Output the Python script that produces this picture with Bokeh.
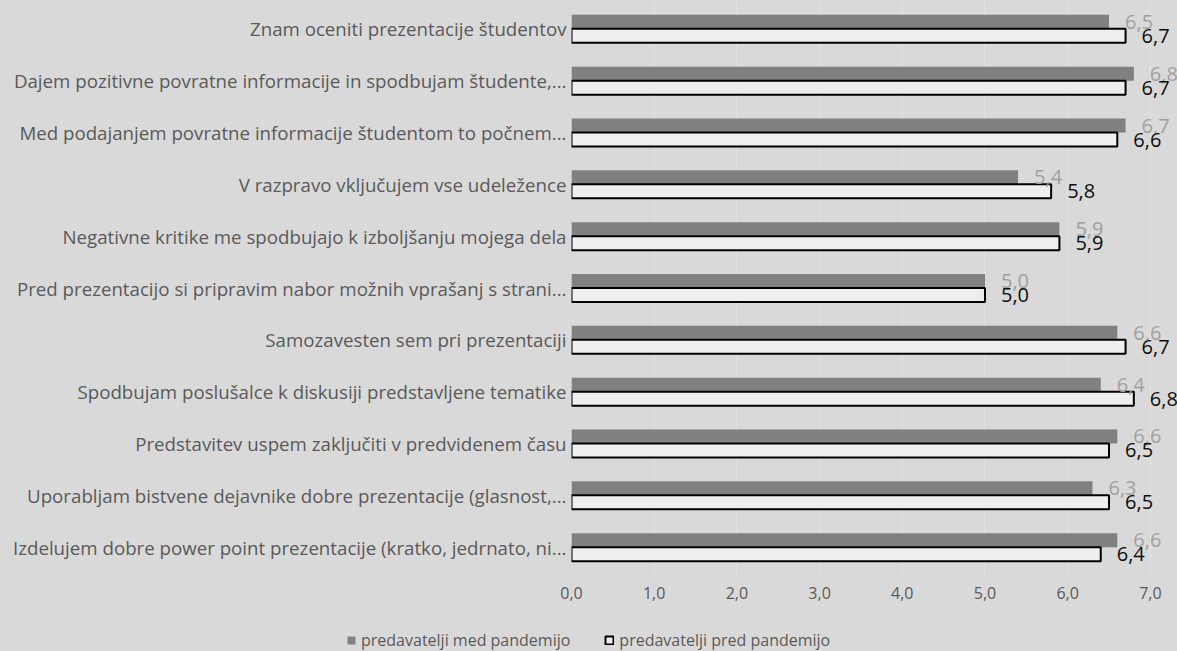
from bokeh.plotting import figure
from bokeh.layouts import column
from bokeh.models import ColumnDataSource, FactorRange, FixedTicker, Legend, LegendItem, Range1d
from bokeh.transform import dodge
from bokeh.core.properties import value
from bokeh.embed import file_html
from bokeh.resources import INLINE

categories = [
    "Znam oceniti prezentacije študentov",
    "Dajem pozitivne povratne informacije in spodbujam študente,...",
    "Med podajanjem povratne informacije študentom to počnem...",
    "V razpravo vključujem vse udeležence",
    "Negativne kritike me spodbujajo k izboljšanju mojega dela",
    "Pred prezentacijo si pripravim nabor možnih vprašanj s strani...",
    "Samozavesten sem pri prezentaciji",
    "Spodbujam poslušalce k diskusiji predstavljene tematike",
    "Predstavitev uspem zaključiti v predvidenem času",
    "Uporabljam bistvene dejavnike dobre prezentacije (glasnost,...",
    "Izdelujem dobre power point prezentacije (kratko, jedrnato, ni...",
]
med_pandemijo = [6.5, 6.8, 6.7, 5.4, 5.9, 5.0, 6.6, 6.4, 6.6, 6.3, 6.6]
pred_pandemijo = [6.7, 6.7, 6.6, 5.8, 5.9, 5.0, 6.7, 6.8, 6.5, 6.5, 6.4]
series_names = ["predavatelji med pandemijo", "predavatelji pred pandemijo"]
x_ticks = [0, 1, 2, 3, 4, 5, 6, 7]
x_tick_labels = ["0,0", "1,0", "2,0", "3,0", "4,0", "5,0", "6,0", "7,0"]

def fmt(v):
    return f"{v:.1f}".replace(".", ",")

src = ColumnDataSource(dict(
    cat=categories,
    med=med_pandemijo,
    pred=pred_pandemijo,
    med_lbl=[fmt(v) for v in med_pandemijo],
    pred_lbl=[fmt(v) for v in pred_pandemijo],
))

BG = "#D9D9D9"
FONT = "Open Sans"
MED_FILL = "#808080"
PRED_FILL = "#EEEEEE"
W = 1177
H_MAIN, H_LEG = 620, 31

yr = FactorRange(factors=list(reversed(categories)), range_padding=0.00855)
p = figure(width=W, height=H_MAIN, y_range=yr, x_range=Range1d(0, 7.328),
           output_backend="svg", toolbar_location=None,
           background_fill_color=BG, border_fill_color=BG,
           min_border_left=571, min_border_right=0,
           min_border_top=0, min_border_bottom=45)
p.outline_line_color = None
p.frame_align = False

bh = 0.27
off = 0.135
p.hbar(y=dodge("cat", off, range=yr), right="med", left=0, height=bh,
       source=src, fill_color=MED_FILL, line_color=None)
p.hbar(y=dodge("cat", -off, range=yr), right="pred", left=0, height=bh,
       source=src, fill_color=PRED_FILL, line_color="#000000", line_width=2)

p.text(x="med", y=dodge("cat", off, range=yr), text="med_lbl", source=src,
       x_offset=16, text_baseline="middle", text_align="left",
       text_font=value(FONT), text_font_size="20px", text_color="#A0A0A0")
p.text(x="pred", y=dodge("cat", -off, range=yr), text="pred_lbl", source=src,
       x_offset=16, text_baseline="middle", text_align="left",
       text_font=value(FONT), text_font_size="20px", text_color="#0D0D0D")

# axes
p.xaxis.ticker = FixedTicker(ticks=x_ticks)
p.xaxis.major_label_overrides = {t: l for t, l in zip(x_ticks, x_tick_labels)}
p.xaxis.axis_line_color = None
p.xaxis.major_tick_line_color = None
p.xaxis.minor_tick_line_color = None
p.xaxis.major_tick_out = 0
p.xaxis.major_tick_in = 0
p.xaxis.major_label_standoff = 11
p.xaxis.major_label_text_font = FONT
p.xaxis.major_label_text_font_size = "16px"
p.xaxis.major_label_text_color = "#595959"

p.yaxis.axis_line_color = None
p.yaxis.major_tick_line_color = None
p.yaxis.minor_tick_line_color = None
p.yaxis.major_tick_out = 0
p.yaxis.major_tick_in = 0
p.yaxis.major_label_standoff = 5
p.yaxis.major_label_text_font = FONT
p.yaxis.major_label_text_font_size = "18.7px"
p.yaxis.major_label_text_color = "#595959"

p.xgrid.grid_line_color = "#E2E2E2"
p.xgrid.grid_line_width = 1
p.ygrid.grid_line_color = None

# legend strip below the chart
lg = figure(width=W, height=H_LEG, x_range=Range1d(0, 10), y_range=Range1d(0, 10),
            output_backend="svg", toolbar_location=None,
            x_axis_type=None, y_axis_type=None,
            background_fill_color=BG, border_fill_color=BG,
            min_border=0)
lg.outline_line_color = None
lg.frame_align = False
lg.grid.visible = False
d_med = lg.hbar(y=[-100], right=[0], left=0, height=1, fill_color=MED_FILL, line_color=None)
d_pred = lg.hbar(y=[-100], right=[0], left=0, height=1, fill_color=PRED_FILL,
                 line_color="#000000", line_width=2)
legend = Legend(items=[LegendItem(label=series_names[0], renderers=[d_med]),
                       LegendItem(label=series_names[1], renderers=[d_pred])],
                location=(346, 0), orientation="horizontal",
                background_fill_alpha=0, border_line_color=None,
                padding=0, margin=0, spacing=34, label_standoff=5,
                glyph_width=10, glyph_height=10, label_height=16,
                label_text_font=FONT, label_text_font_size="16px",
                label_text_color="#595959")
lg.add_layout(legend, "center")

layout = column(p, lg, spacing=0, styles={"background-color": BG})
open("out.html", "w").write(file_html(layout, INLINE))
